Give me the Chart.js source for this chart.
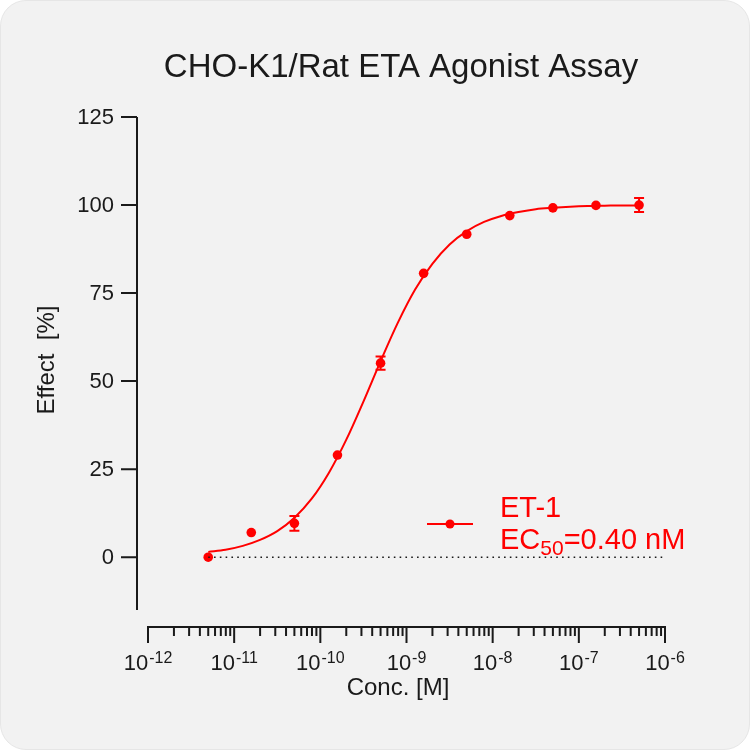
<!DOCTYPE html>
<html>
<head>
<meta charset="utf-8">
<script src="https://cdn.jsdelivr.net/npm/chart.js@4.4.1/dist/chart.umd.min.js"></script>
<style>
html, body { margin: 0; padding: 0; background: #fff; }
#panel { position: absolute; left: 0; top: 0; width: 750px; height: 750px; box-sizing: border-box;
         background: #f2f2f2; border: 1px solid #e6e6e6; border-radius: 26px; }
#myChart { position: absolute; left: 0; top: 0; }
</style>
</head>
<body>
<div id="panel"></div>
<canvas id="myChart" width="750" height="750"></canvas>
<script>
// measured points (mean, error)
var conc = [5e-12, 1.58e-11, 5e-11, 1.58e-10, 5e-10, 1.58e-9, 5e-9, 1.58e-8, 5e-8, 1.58e-7, 5e-7];
var effect = [0, 7.0, 9.6, 29.0, 55.1, 80.6, 91.7, 97.0, 99.2, 99.9, 100];
var effectErr = [0, 0, 2.1, 0, 1.9, 0, 0, 0, 0, 0, 2.0];

// fitted curve
var fitLogConc = [-11.3, -11.1, -10.9, -10.7, -10.5, -10.3, -10.1, -9.9, -9.7, -9.5, -9.3, -9.1, -8.9,
                  -8.7, -8.5, -8.3, -8.1, -7.9, -7.7, -7.5, -7.3, -7.1, -6.9, -6.7, -6.5, -6.3];
var fitEffect = [1.5, 2.1, 3.2, 4.9, 7.4, 11.2, 16.6, 24.0, 33.3, 44.2, 55.7, 66.6, 76.0,
                 83.3, 88.8, 92.6, 95.2, 96.9, 98.0, 98.8, 99.2, 99.5, 99.7, 99.8, 99.9, 99.9];

var zeroLineX = [5e-12, 1e-6];
var zeroLineY = [0, 0];

var yTicks = [0, 25, 50, 75, 100, 125];
var xDecades = [-12, -11, -10, -9, -8, -7, -6];

var seriesName = "ET-1";
var ec50Text = "0.40 nM";

var FONT = '"Liberation Sans", Arial, sans-serif';
var RED = "#ff0000";
var INK = "#1a1a1a";

var toPoints = function(xs, ys){
    return xs.map(function(x, i){ return {x: x, y: ys[i]}; });
}

var errorBars = {
    id: 'errorBars',
    afterDatasetsDraw: function(chart){
        var ctx = chart.ctx;
        var xs = chart.scales.x, ys = chart.scales.y;
        ctx.save();
        ctx.strokeStyle = RED;
        ctx.lineWidth = 2;
        for (var i = 0; i < conc.length; i++){
            if (!effectErr[i]) continue;
            var px = xs.getPixelForValue(conc[i]);
            var top = ys.getPixelForValue(effect[i] + effectErr[i]);
            var bot = ys.getPixelForValue(effect[i] - effectErr[i]);
            ctx.beginPath();
            ctx.moveTo(px, top); ctx.lineTo(px, bot);
            ctx.moveTo(px - 5, top); ctx.lineTo(px + 5, top);
            ctx.moveTo(px - 5, bot); ctx.lineTo(px + 5, bot);
            ctx.stroke();
        }
        ctx.restore();
    }
}

var decorations = {
    id: 'decorations',
    afterDraw: function(chart){
        var ctx = chart.ctx;
        var xs = chart.scales.x, ys = chart.scales.y;
        var area = chart.chartArea;
        ctx.save();
        ctx.strokeStyle = INK;
        ctx.fillStyle = INK;
        ctx.lineWidth = 2;

        // y axis, set off to the left
        var yAxisX = area.left - 11;
        ctx.beginPath();
        ctx.moveTo(yAxisX, area.top);
        ctx.lineTo(yAxisX, area.bottom);
        yTicks.forEach(function(t){
            var py = ys.getPixelForValue(t);
            ctx.moveTo(yAxisX - 16, py);
            ctx.lineTo(yAxisX, py);
        })
        ctx.stroke();
        ctx.font = "22px " + FONT;
        ctx.textAlign = "right";
        ctx.textBaseline = "middle";
        yTicks.forEach(function(t){
            ctx.fillText(String(t), yAxisX - 23, ys.getPixelForValue(t) + 1);
        })

        // x axis, set off below
        var xAxisY = area.bottom + 17;
        ctx.beginPath();
        ctx.moveTo(area.left - 1, xAxisY);
        ctx.lineTo(area.right + 1, xAxisY);
        xDecades.forEach(function(d, k){
            var px = xs.getPixelForValue(Math.pow(10, d));
            ctx.moveTo(px, xAxisY);
            ctx.lineTo(px, xAxisY + 16);
            if (k < xDecades.length - 1){
                for (var m = 2; m <= 9; m++){
                    var mx = xs.getPixelForValue(m * Math.pow(10, d));
                    ctx.moveTo(mx, xAxisY);
                    ctx.lineTo(mx, xAxisY + 9);
                }
            }
        })
        ctx.stroke();

        ctx.textBaseline = "alphabetic";
        xDecades.forEach(function(d){
            var px = xs.getPixelForValue(Math.pow(10, d));
            var base = "10", sup = String(d);
            ctx.font = "22px " + FONT;
            var wb = ctx.measureText(base).width;
            ctx.font = "16px " + FONT;
            var ws = ctx.measureText(sup).width;
            var left = px - (wb + ws + 1) / 2;
            ctx.textAlign = "left";
            ctx.font = "22px " + FONT;
            ctx.fillText(base, left, xAxisY + 43);
            ctx.font = "16px " + FONT;
            ctx.fillText(sup, left + wb + 1, xAxisY + 36);
        })

        // axis titles
        ctx.font = "24px " + FONT;
        ctx.textAlign = "center";
        ctx.textBaseline = "middle";
        ctx.fillText("Conc. [M]", 398, 688);
        ctx.save();
        ctx.translate(47, 360);
        ctx.rotate(-Math.PI / 2);
        ctx.fillText("Effect  [%]", 0, 0);
        ctx.restore();

        // chart title
        ctx.font = "33px " + FONT;
        ctx.fillText("CHO-K1/Rat ETA Agonist Assay", 401, 68);

        // legend
        ctx.strokeStyle = RED;
        ctx.fillStyle = RED;
        ctx.beginPath();
        ctx.moveTo(427, 524);
        ctx.lineTo(473, 524);
        ctx.stroke();
        ctx.beginPath();
        ctx.arc(450, 524, 4.5, 0, Math.PI * 2);
        ctx.fill();
        ctx.textAlign = "left";
        ctx.textBaseline = "alphabetic";
        ctx.font = "29px " + FONT;
        ctx.fillText(seriesName, 500, 517);
        var ecW = ctx.measureText("EC").width;
        ctx.fillText("EC", 500, 549);
        ctx.font = "21px " + FONT;
        var subW = ctx.measureText("50").width;
        ctx.fillText("50", 500 + ecW, 555);
        ctx.font = "29px " + FONT;
        ctx.fillText("=" + ec50Text, 500 + ecW + subW, 549);

        ctx.restore();
    }
}

var ctx = document.getElementById("myChart");
var myChart = new Chart(ctx, {
    type: 'scatter',
    data: {
        datasets: [{
            label: 'zero',
            data: toPoints(zeroLineX, zeroLineY),
            showLine: true,
            borderColor: INK,
            borderWidth: 1.6,
            borderDash: [1.6, 4.2],
            pointRadius: 0
        }, {
            label: 'fit',
            data: toPoints(fitLogConc.map(function(v){ return Math.pow(10, v); }), fitEffect),
            showLine: true,
            borderColor: RED,
            borderWidth: 2,
            cubicInterpolationMode: 'monotone',
            pointRadius: 0
        }, {
            label: seriesName,
            data: toPoints(conc, effect),
            showLine: false,
            backgroundColor: RED,
            borderColor: RED,
            pointRadius: 4.8,
            pointBorderWidth: 0
        }]
    },
    options: {
        responsive: false,
        animation: false,
        devicePixelRatio: 1,
        layout: {
            padding: {left: 148, right: 85, top: 117, bottom: 140}
        },
        plugins: {
            legend: {display: false},
            title: {display: false},
            tooltip: {enabled: false}
        },
        scales: {
            x: {type: 'logarithmic', min: 1e-12, max: 1e-6, display: false},
            y: {type: 'linear', min: -15, max: 125, display: false}
        }
    },
    plugins: [errorBars, decorations]
})
</script>
</body>
</html>
